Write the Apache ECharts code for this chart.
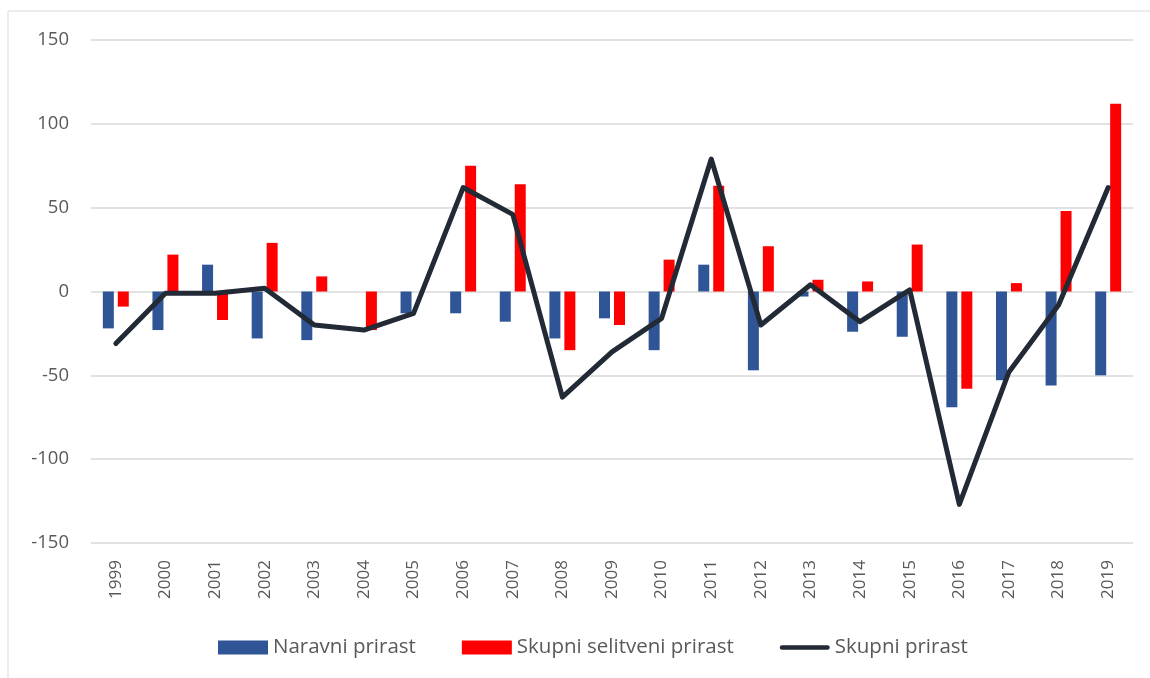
<!DOCTYPE html>
<html>
<head>
<meta charset="utf-8">
<script src="https://cdn.jsdelivr.net/npm/echarts@6/dist/echarts.min.js"></script>
<style>
html,body{margin:0;padding:0;background:#fff;}
#chart{width:1150px;height:678px;}
</style>
</head>
<body>
<div id="chart"></div>
<script>
const years = ['1999','2000','2001','2002','2003','2004','2005','2006','2007','2008','2009','2010','2011','2012','2013','2014','2015','2016','2017','2018','2019'];
const naravniPrirast = [-22, -23, 16, -28, -29, 0, -13, -13, -18, -28, -16, -35, 16, -47, -3, -24, -27, -69, -53, -56, -50];
const selitveniPrirast = [-9, 22, -17, 29, 9, -23, 0, 75, 64, -35, -20, 19, 63, 27, 7, 6, 28, -58, 5, 48, 112];
const skupniPrirast = [-31, -1, -1, 2, -20, -23, -13, 62, 46, -63, -36, -16, 79, -20, 4, -18, 1, -127, -48, -8, 62];
const seriesNames = ['Naravni prirast', 'Skupni selitveni prirast', 'Skupni prirast'];

const FONT = '"Open Sans", "Liberation Sans", sans-serif';
const chart = echarts.init(document.getElementById('chart'), null, {renderer: 'canvas'});
chart.setOption({
  animation: false,
  backgroundColor: '#fff',
  graphic: [{
    type: 'rect', silent: true,
    shape: {x: 8, y: 11, width: 1200, height: 720},
    style: {fill: 'none', stroke: '#D9D9D9', lineWidth: 1}
  }],
  grid: {left: 91, right: 17, top: 40, bottom: 135, containLabel: false},
  legend: {
    bottom: 15, left: 213,
    itemWidth: 50, itemHeight: 14, itemGap: 46,
    textStyle: {color: '#595959', fontSize: 20.5, fontFamily: FONT},
    data: [
      {name: seriesNames[0], icon: 'rect'},
      {name: seriesNames[1], icon: 'rect'},
      {name: seriesNames[2], icon: 'path://M2.5,0 L52.5,0 A2.5,2.5 0 0 1 52.5,5 L2.5,5 A2.5,2.5 0 0 1 2.5,0 Z',
       itemStyle: {color: '#222A35'}}
    ]
  },
  xAxis: {
    type: 'category', data: years,
    axisLine: {show: false}, axisTick: {show: false},
    axisLabel: {rotate: 90, color: '#595959', fontSize: 17, fontFamily: FONT, margin: 17}
  },
  yAxis: {
    type: 'value', min: -150, max: 150, interval: 50,
    axisLine: {show: false}, axisTick: {show: false},
    axisLabel: {color: '#595959', fontSize: 18.5, fontFamily: FONT, margin: 22},
    splitLine: {lineStyle: {color: '#D9D9D9', width: 1.5}}
  },
  series: [
    {name: seriesNames[0], type: 'bar', data: naravniPrirast, barWidth: 11, barGap: '36%',
     itemStyle: {color: '#2F5597'}},
    {name: seriesNames[1], type: 'bar', data: selitveniPrirast, barWidth: 11, barGap: '36%',
     itemStyle: {color: '#FF0000'}},
    {name: seriesNames[2], type: 'line', data: skupniPrirast, symbol: 'none',
     lineStyle: {color: '#222A35', width: 5, cap: 'round', join: 'round'},
     itemStyle: {color: '#222A35'}, z: 5}
  ]
});
</script>
</body>
</html>
